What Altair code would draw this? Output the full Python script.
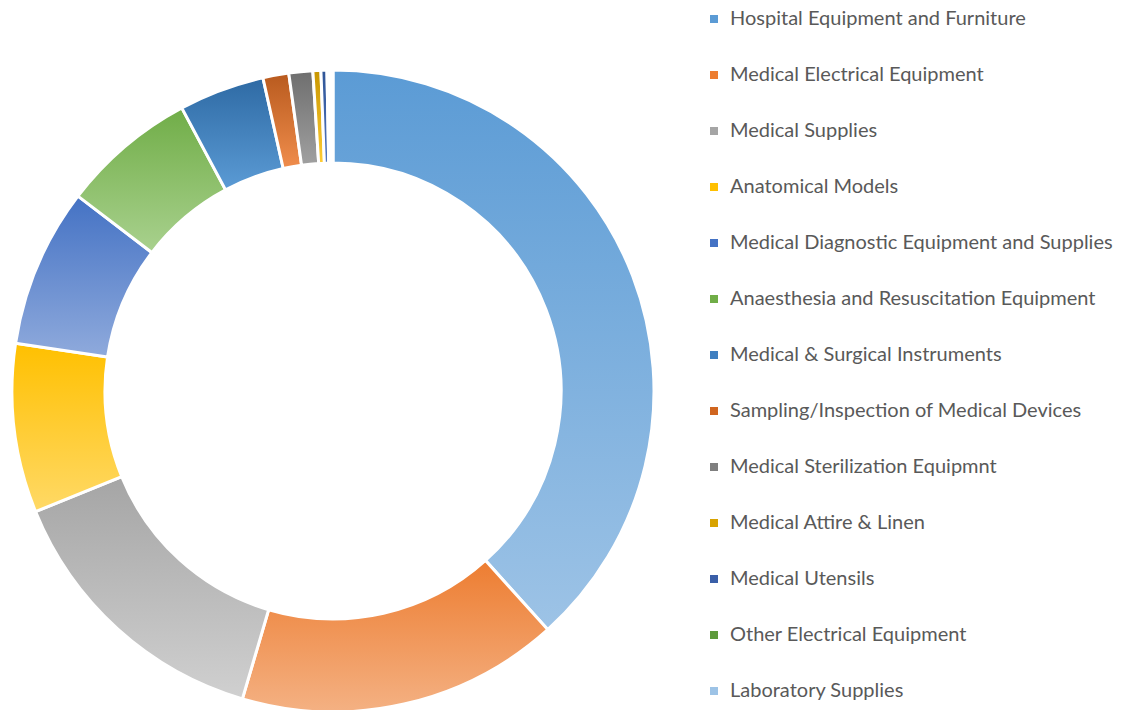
import math
import altair as alt
import pandas as pd

categories = [
    "Hospital Equipment and Furniture",
    "Medical Electrical Equipment",
    "Medical Supplies",
    "Anatomical Models",
    "Medical Diagnostic Equipment and Supplies",
    "Anaesthesia and Resuscitation Equipment",
    "Medical & Surgical Instruments",
    "Sampling/Inspection of Medical Devices",
    "Medical Sterilization Equipmnt",
    "Medical Attire & Linen",
    "Medical Utensils",
    "Other Electrical Equipment",
    "Laboratory Supplies",
]
values = [38.3, 16.2, 14.3, 8.5, 8.0, 6.8, 4.3, 1.3, 1.2, 0.4, 0.3, 0.15, 0.15]

legend_colors = ["#5B9BD5", "#ED7D31", "#A5A5A5", "#FFC000", "#4472C4", "#70AD47",
                 "#3F7FC0", "#D0651F", "#7F7F7F", "#D8A300", "#3A5FA8", "#5E9A3C", "#9DC3E6"]
grad_top = ["#5B9BD5", "#ED7D31", "#A5A5A5", "#FFC000", "#4472C4", "#70AD47",
            "#2E6AA4", "#B85A1E", "#6E6E6E", "#C89600", "#2F5597", "#4E8A30", "#8DB7E0"]
grad_bottom = ["#9DC3E6", "#F4B183", "#D0D0D0", "#FFD966", "#8FAADC", "#A9D18E",
               "#5B9BD5", "#F08D4C", "#A0A0A0", "#FFCC33", "#5377BF", "#7FBF5A", "#BDD7EE"]

df = pd.DataFrame({"category": categories, "value": values,
                   "order": list(range(len(categories)))})

CX, CY, R_OUT, R_IN = 325, 383, 321, 228

base = (
    alt.Chart(df)
    .transform_joinaggregate(total="sum(value)")
    .transform_window(cum="sum(value)", sort=[alt.SortField("order")], frame=[None, 0])
    .transform_calculate(start="(datum.cum - datum.value) / datum.total",
                         end="datum.cum / datum.total")
)

theta_scale = alt.Scale(domain=[0, 1], range=[0, 2 * math.pi])

legend_layer = base.mark_arc(innerRadius=R_IN, outerRadius=R_OUT, stroke="white",
                             strokeWidth=3).encode(
    theta=alt.Theta("start:Q", scale=theta_scale),
    theta2="end:Q",
    x=alt.value(CX),
    y=alt.value(CY),
    color=alt.Color(
        "category:N",
        scale=alt.Scale(domain=categories, range=legend_colors),
        legend=alt.Legend(
            title=None,
            orient="none",
            legendX=696,
            legendY=1,
            symbolType="square",
            symbolSize=64,
            symbolStrokeWidth=0,
            labelFont="Lato",
            labelFontSize=20,
            labelColor="#595959",
            labelLimit=600,
            labelOffset=6,
            rowPadding=36,
        ),
    ),
)

layers = [legend_layer]
for c, t, b in zip(categories, grad_top, grad_bottom):
    layers.append(
        base.transform_filter(alt.datum.category == c)
        .mark_arc(
            innerRadius=R_IN,
            outerRadius=R_OUT,
            stroke="white",
            strokeWidth=3,
            fill=alt.Gradient(
                gradient="linear",
                stops=[alt.GradientStop(color=t, offset=0),
                       alt.GradientStop(color=b, offset=1)],
                x1=0, x2=0, y1=0, y2=1,
            ),
        )
        .encode(
            theta=alt.Theta("start:Q", scale=theta_scale),
            theta2="end:Q",
            x=alt.value(CX),
            y=alt.value(CY),
        )
    )

chart = (
    alt.layer(*layers)
    .properties(width=1113, height=702, padding=0, autosize="none")
    .configure_view(stroke=None)
)

chart.save("out.html", embed_options={"renderer": "svg", "actions": False})
